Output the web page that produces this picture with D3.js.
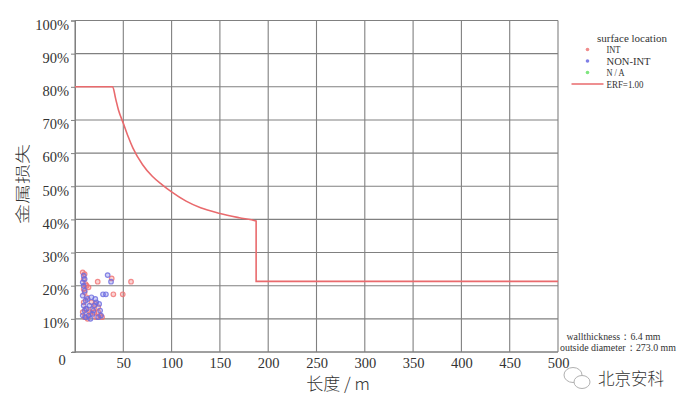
<!DOCTYPE html>
<html>
<head>
<meta charset="utf-8">
<script src="https://cdnjs.cloudflare.com/ajax/libs/d3/7.8.5/d3.min.js"></script>
<style>
  body { margin: 0; background: #fff; }
  svg text { font-family: "Liberation Serif", "DejaVu Serif", serif; fill: #333; }
</style>
</head>
<body>
<div id="dvBody"></div>
<script>
// ERF 曲线 (长度 m, 金属损失 %)
var erfLen = [0, 39, 42, 45, 50, 55, 60, 70, 80, 90, 100, 115, 130, 150, 170, 187.5, 187.5, 500];
var erfVal = [80, 80, 76.5, 73, 69, 65, 61.5, 56.5, 53, 50.5, 48.3, 45.5, 43.5, 41.8, 40.5, 39.5, 21.3, 21.3];

// 缺陷点 INT
var intPts = [[8,24],[10,23.5],[9,22],[11,20.5],[9,19],[14,19.5],[10,18],[12,16.5],[9,15],[11,13],
  [8,12],[10,10.5],[13,10],[16,11.5],[18,13],[20,12],[22,10.5],[24,12],[26,11],[28,10.5],
  [17,15],[21,14.5],[24,13.5],[23.5,21.2],[38,22.2],[39.7,17.4],[49.4,17.4],[58,21.2],[12,20],[15,12]];
// 缺陷点 NON-INT
var nonIntPts = [[9,23],[10,22],[8,21],[9,20],[10,18.5],[8,17],[11,15.5],[9,14],[10,12.5],[8,11],
  [11,10.5],[14,11],[16,10],[18,11.5],[20,14],[22,15],[25,14.5],[26,12.5],[27,11],[19,12.5],
  [15,14],[13,16],[33.8,23.2],[37.3,21.2],[29,17.4],[32,17.4],[21,16],[24,10.5],[12,13],[17,16.5]];

var xTicks = [0, 50, 100, 150, 200, 250, 300, 350, 400, 450, 500];
var yTicks = [0, 10, 20, 30, 40, 50, 60, 70, 80, 90, 100];
var legendItems = ["INT", "NON-INT", "N / A"];
var legendLens = [14, 44, 18];
var legendColors = ["#f08c8c", "#7f7fe6", "#7fe67f"];

var margin = {top: 20.5, left: 75},
    width = 483,
    height = 331.5;

var svg = d3.select("#dvBody").append("svg")
  .attr("width", 686).attr("height", 410);

var g = svg.append("g")
  .attr("transform", "translate(" + margin.left + "," + margin.top + ")");

var x = d3.scaleLinear().domain([0, 500]).range([0, width]);
var y = d3.scaleLinear().domain([0, 100]).range([height, 0]);

//grid
g.append("g").selectAll("line").data(xTicks).join("line")
  .attr("x1", d => x(d)).attr("x2", d => x(d))
  .attr("y1", 0).attr("y2", height)
  .attr("stroke", "#808080").attr("stroke-width", 1.1);
g.append("g").selectAll("line").data(yTicks).join("line")
  .attr("x1", 0).attr("x2", width)
  .attr("y1", d => y(d)).attr("y2", d => y(d))
  .attr("stroke", "#808080").attr("stroke-width", 1.1);

//eje Y
var yAxis = g.append("g")
  .call(d3.axisLeft(y).tickValues(yTicks).tickSize(4).tickPadding(2)
    .tickFormat(d => d === 0 ? "" : d + "%"));
yAxis.select(".domain").attr("stroke", "#808080");
yAxis.selectAll(".tick line").attr("stroke", "#808080");
yAxis.selectAll("text").style("font-size", "14.5px").attr("dy", "0.75em").attr("y", -2)
  .style("font-family", "Liberation Serif").attr("fill", "#333");

//eje X
var xAxis = g.append("g")
  .attr("transform", "translate(0," + height + ")")
  .call(d3.axisBottom(x).tickValues(xTicks).tickSize(0).tickPadding(6)
    .tickFormat(d => d === 0 ? "" : d));
xAxis.select(".domain").attr("stroke", "#808080").attr("d", "M-3,0H" + width);
xAxis.selectAll("text").style("font-size", "14.5px")
  .style("font-family", "Liberation Serif").attr("fill", "#333");

// origen
g.append("text")
  .attr("x", x(0) - 13).attr("y", y(0) + 13)
  .attr("text-anchor", "middle")
  .style("font-size", "14.5px")
  .text("0");

// curva ERF
var erfData = erfLen.map((d, i) => [d, erfVal[i]]);
g.append("path")
  .datum(erfData)
  .attr("fill", "none")
  .attr("stroke", "#e96a6d")
  .attr("stroke-width", 1.6)
  .attr("d", d3.line().x(d => x(d[0])).y(d => y(d[1])).curve(d3.curveMonotoneX));

// puntos
function pintarPuntos(datos, color) {
  g.append("g").selectAll("circle").data(datos).join("circle")
    .attr("cx", d => x(d[0]))
    .attr("cy", d => y(d[1]))
    .attr("r", 2.3)
    .attr("fill", color).attr("fill-opacity", 0.3)
    .attr("stroke", color).attr("stroke-width", 1.2).attr("stroke-opacity", 0.8);
}
pintarPuntos(intPts, "#f07070");
pintarPuntos(nonIntPts, "#6a6ae0");

// titulos
svg.append("text")
  .attr("transform", "translate(28,184) rotate(-90) scale(1,0.72)")
  .attr("text-anchor", "middle")
  .style("font-family", "Noto Sans CJK SC")
  .style("font-size", "20px")
  .style("font-weight", 300)
  .text("金属损失");

svg.append("text")
  .attr("x", 338).attr("y", 390)
  .attr("text-anchor", "middle")
  .style("font-family", "Noto Sans CJK SC")
  .style("font-size", "17px")
  .style("font-weight", 300)
  .text("长度 / m");

// leyenda
var leg = svg.append("g");
leg.append("text").attr("x", 597).attr("y", 41.5)
  .style("font-size", "11px").attr("textLength", 70).attr("lengthAdjust", "spacingAndGlyphs")
  .text("surface location");
legendItems.forEach(function(t, i) {
  var cy = 49.5 + i * 11.5;
  leg.append("circle").attr("cx", 587.5).attr("cy", cy).attr("r", 1.8)
    .attr("fill", legendColors[i]);
  leg.append("text").attr("x", 606.5).attr("y", cy + 3.8)
    .style("font-size", "11px").attr("textLength", legendLens[i])
    .attr("lengthAdjust", "spacingAndGlyphs").text(t);
});
leg.append("line").attr("x1", 571.5).attr("x2", 603.5).attr("y1", 84).attr("y2", 84)
  .attr("stroke", "#e96a6d").attr("stroke-width", 1.6);
leg.append("text").attr("x", 606.5).attr("y", 87.8)
  .style("font-size", "11px").attr("textLength", 37).attr("lengthAdjust", "spacingAndGlyphs")
  .text("ERF=1.00");

// datos tubo
svg.append("text").attr("x", 566.5).attr("y", 339.5)
  .style("font-size", "10.5px").attr("textLength", 94).attr("lengthAdjust", "spacingAndGlyphs")
  .text("wallthickness：6.4 mm");
svg.append("text").attr("x", 560).attr("y", 350.5)
  .style("font-size", "10.5px").attr("textLength", 116).attr("lengthAdjust", "spacingAndGlyphs")
  .text("outside diameter：273.0 mm");

// marca de agua
var wm = svg.append("g").attr("fill", "none").attr("stroke", "#b0b0b0").attr("stroke-width", 1);
wm.append("ellipse").attr("cx", 573).attr("cy", 375).attr("rx", 9).attr("ry", 7.5);
wm.append("ellipse").attr("cx", 582).attr("cy", 382).attr("rx", 8).attr("ry", 6.5).attr("fill", "#fff");
svg.append("text").attr("x", 598).attr("y", 385)
  .style("font-family", "Noto Sans CJK SC").style("font-size", "16.5px")
  .style("font-weight", 300).attr("fill", "#666")
  .text("北京安科");
</script>
</body>
</html>
